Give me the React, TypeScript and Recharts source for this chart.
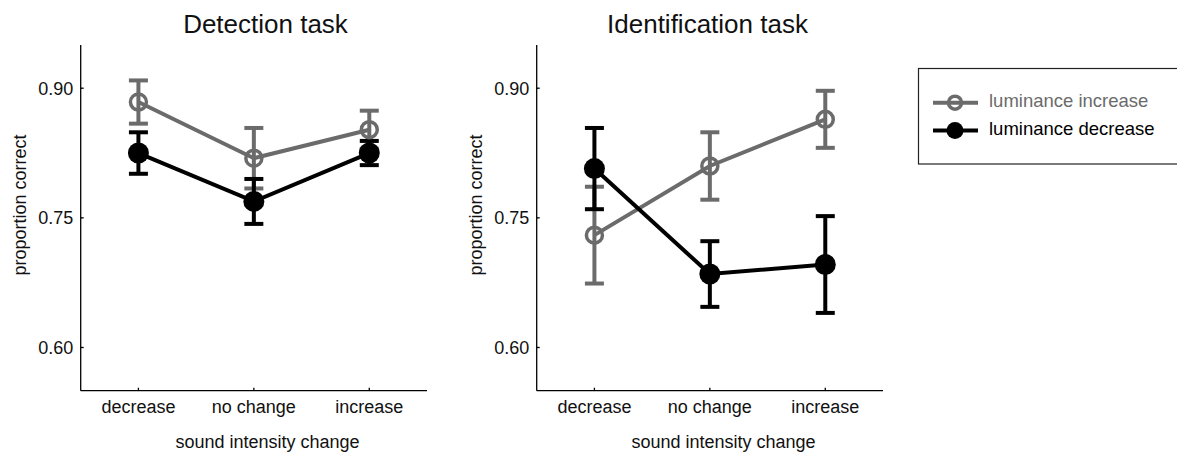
import { LineChart, Line, XAxis, YAxis, ErrorBar } from "recharts";

// sound intensity change conditions
const categories = ["decrease", "no change", "increase"];
const yTicks = [0.6, 0.75, 0.9];

// proportion correct (error bars are +/- half-widths)
const detectionIncrease = [0.884, 0.819, 0.852];
const detectionIncreaseErr = [0.025, 0.035, 0.022];
const detectionDecrease = [0.825, 0.769, 0.825];
const detectionDecreaseErr = [0.024, 0.026, 0.014];

const identificationIncrease = [0.73, 0.81, 0.864];
const identificationIncreaseErr = [0.056, 0.039, 0.033];
const identificationDecrease = [0.807, 0.685, 0.696];
const identificationDecreaseErr = [0.047, 0.038, 0.056];

const GRAY = "#6b6b6b";
const FONT = "'Liberation Sans', Arial, sans-serif";

const buildRows = (inc: number[], incErr: number[], dec: number[], decErr: number[]) =>
  categories.map((name, i) => ({
    x: i,
    name,
    inc: inc[i],
    incErr: incErr[i],
    dec: dec[i],
    decErr: decErr[i],
  }));

const OpenDot = (props: any) => {
  const { cx, cy } = props;
  if (cx == null || cy == null) return null;
  return <circle cx={cx} cy={cy} r={8} fill="none" stroke={GRAY} strokeWidth={3.5} />;
};

const FilledDot = (props: any) => {
  const { cx, cy } = props;
  if (cx == null || cy == null) return null;
  return <circle cx={cx} cy={cy} r={10.5} fill="#000" />;
};

function Panel({ data, left }: { data: any[]; left: number }) {
  return (
    <div style={{ position: "absolute", left, top: 0 }}>
      <LineChart width={460} height={453} data={data} margin={{ top: 45, right: 33, left: 0, bottom: 0 }}>
        <XAxis
          dataKey="x"
          type="number"
          domain={[-0.5, 2.5]}
          ticks={[0, 1, 2]}
          tickFormatter={(v: number) => categories[v]}
          height={62.3}
          stroke="#000"
          strokeWidth={1.3}
          tickSize={-3}
          tickMargin={12.5}
          tick={{ fill: "#111", fontSize: 18, fontFamily: FONT }}
          label={{
            value: "sound intensity change",
            content: () => (
              <text x={267.5} y={447.5} textAnchor="middle" fontSize={18} fontFamily={FONT} fill="#111">
                sound intensity change
              </text>
            ),
          }}
        />
        <YAxis
          type="number"
          domain={[0.55, 0.95]}
          ticks={yTicks}
          tickFormatter={(v: number) => v.toFixed(2)}
          width={80.7}
          stroke="#000"
          strokeWidth={1.3}
          tickSize={-3}
          tickMargin={10.5}
          tick={{ fill: "#111", fontSize: 18, fontFamily: FONT }}
          label={{
            value: "proportion correct",
            content: () => (
              <text
                x={20}
                y={205}
                transform="rotate(-90 20 205)"
                textAnchor="middle"
                dominantBaseline="central"
                fontSize={18}
                fontFamily={FONT}
                fill="#111"
              >
                proportion correct
              </text>
            ),
          }}
        />
        <Line
          dataKey="inc"
          stroke={GRAY}
          strokeWidth={4}
          dot={<OpenDot />}
          activeDot={false}
          isAnimationActive={false}
        >
          <ErrorBar dataKey="incErr" direction="y" width={9.5} stroke={GRAY} strokeWidth={4} />
        </Line>
        <Line
          dataKey="dec"
          stroke="#000"
          strokeWidth={4}
          dot={<FilledDot />}
          activeDot={false}
          isAnimationActive={false}
        >
          <ErrorBar dataKey="decErr" direction="y" width={9.5} stroke="#000" strokeWidth={4} />
        </Line>
      </LineChart>
    </div>
  );
}

export default function App() {
  const detection = buildRows(detectionIncrease, detectionIncreaseErr, detectionDecrease, detectionDecreaseErr);
  const identification = buildRows(
    identificationIncrease,
    identificationIncreaseErr,
    identificationDecrease,
    identificationDecreaseErr
  );
  return (
    <div style={{ position: "absolute", left: 0, top: 0, width: 1177, height: 453, background: "#fff", overflow: "hidden" }}>
      <Panel data={detection} left={0} />
      <Panel data={identification} left={456} />
      <svg width={1177} height={453} style={{ position: "absolute", left: 0, top: 0, pointerEvents: "none" }}>
        <text x={265.5} y={33.3} textAnchor="middle" fontSize={26} fontFamily={FONT} fill="#111">
          Detection task
        </text>
        <text x={707.5} y={33.3} textAnchor="middle" fontSize={26} fontFamily={FONT} fill="#111">
          Identification task
        </text>
        {/* legend */}
        <rect x={918.5} y={68.5} width={270} height={95.5} fill="#fff" stroke="#222" strokeWidth={1.2} />
        <line x1={933} x2={978} y1={102.7} y2={102.7} stroke={GRAY} strokeWidth={4} />
        <circle cx={955} cy={102.7} r={6.5} fill="none" stroke={GRAY} strokeWidth={3.5} />
        <text x={989} y={107} fontSize={18.5} fontFamily={FONT} fill={GRAY}>
          luminance increase
        </text>
        <line x1={933} x2={978} y1={130.5} y2={130.5} stroke="#000" strokeWidth={4} />
        <circle cx={955} cy={130.5} r={8.5} fill="#000" />
        <text x={989} y={135} fontSize={18.5} fontFamily={FONT} fill="#000">
          luminance decrease
        </text>
      </svg>
    </div>
  );
}
